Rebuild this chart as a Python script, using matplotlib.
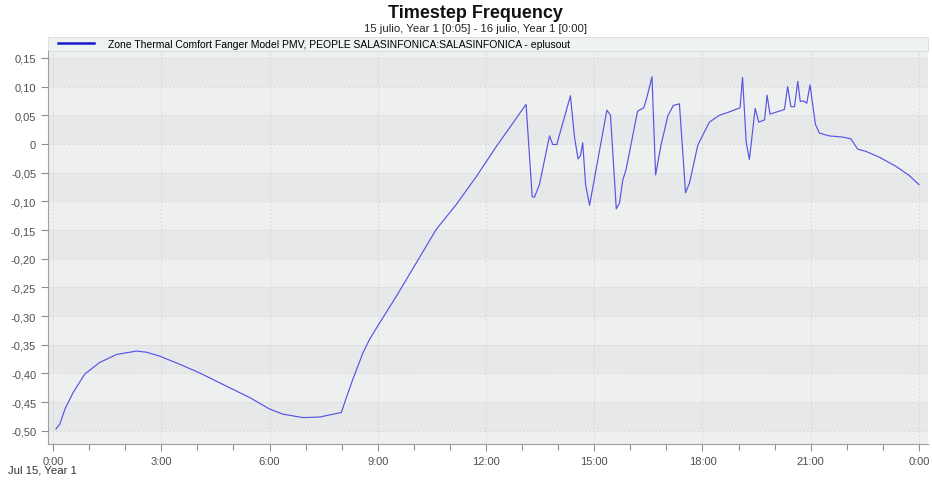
import numpy as np
import matplotlib
matplotlib.use('Agg')
import matplotlib.pyplot as plt
from matplotlib.ticker import MultipleLocator, FuncFormatter
from matplotlib.patches import Rectangle

plt.rcParams['font.family'] = ['Liberation Sans', 'DejaVu Sans']

# hours since Jul 15 0:00
hours = [0.08, 0.19, 0.33, 0.56, 0.88, 1.29, 1.76, 2.31, 2.59, 2.96, 3.51, 4.06,
         4.80, 5.45, 6.00, 6.37, 6.93, 7.39, 7.99, 8.13, 8.31, 8.59, 8.77, 9.05,
         9.52, 10.07, 10.62, 11.17, 11.73, 12.28, 13.11, 13.28, 13.34, 13.48,
         13.76, 13.85, 13.96, 14.34, 14.45, 14.55, 14.62, 14.68, 14.76, 14.87,
         15.35, 15.45, 15.61, 15.70, 15.79, 15.88, 16.20, 16.37, 16.45, 16.60,
         16.70, 16.85, 17.04, 17.19, 17.36, 17.53, 17.64, 17.87, 18.19, 18.47,
         18.75, 19.04, 19.11, 19.21, 19.30, 19.46, 19.56, 19.72, 19.79, 19.87,
         20.27, 20.36, 20.45, 20.55, 20.64, 20.71, 20.80, 20.89, 20.98, 21.13,
         21.24, 21.51, 21.88, 22.11, 22.30, 22.53, 22.90, 23.36, 23.73, 24.00]
pmv = [-0.497, -0.488, -0.462, -0.433, -0.401, -0.381, -0.367, -0.361, -0.363,
       -0.370, -0.384, -0.399, -0.422, -0.442, -0.462, -0.471, -0.477, -0.476,
       -0.468, -0.442, -0.410, -0.364, -0.341, -0.312, -0.265, -0.207, -0.149,
       -0.106, -0.057, -0.005, 0.069, -0.092, -0.093, -0.071, 0.014, -0.001,
       -0.001, 0.084, 0.013, -0.026, -0.020, 0.002, -0.071, -0.107, 0.059,
       0.050, -0.113, -0.103, -0.063, -0.045, 0.057, 0.063, 0.079, 0.117,
       -0.054, -0.002, 0.049, 0.067, 0.070, -0.085, -0.068, -0.002, 0.038,
       0.050, 0.056, 0.063, 0.116, 0.004, -0.027, 0.062, 0.038, 0.042, 0.085,
       0.052, 0.060, 0.100, 0.065, 0.065, 0.109, 0.074, 0.075, 0.071, 0.103,
       0.034, 0.019, 0.014, 0.012, 0.009, -0.009, -0.013, -0.023, -0.039,
       -0.055, -0.071]

series_label = 'Zone Thermal Comfort Fanger Model PMV, PEOPLE SALASINFONICA:SALASINFONICA - eplusout'
title = 'Timestep Frequency'
subtitle = '15 julio, Year 1 [0:05] - 16 julio, Year 1 [0:00]'
date_label = 'Jul 15, Year 1'

fig = plt.figure(figsize=(9.32, 4.85), dpi=100)
ax = fig.add_axes([48 / 932, 40 / 485, 880 / 932, 393 / 485])

ymin, ymax = -0.523, 0.162
ax.set_ylim(ymin, ymax)
ax.set_xlim(-0.14, 24.25)

# alternating horizontal bands
ax.set_facecolor('#eeefef')
for lo in np.arange(-0.50, 0.15, 0.10):
    ax.axhspan(lo, lo + 0.05, color='#e7e8e9', lw=0, zorder=0)

ax.plot(hours, pmv, color='#5555e4', lw=0.85, label=series_label, zorder=3)

ax.yaxis.set_major_locator(MultipleLocator(0.05))
ax.yaxis.set_major_formatter(FuncFormatter(
    lambda v, p: '0' if abs(v) < 1e-9 else f'{v:.2f}'.replace('.', ',')))
ax.xaxis.set_major_locator(MultipleLocator(3))
ax.xaxis.set_minor_locator(MultipleLocator(1))
ax.xaxis.set_major_formatter(FuncFormatter(lambda v, p: f'{int(round(v)) % 24}:00'))

ax.grid(True, which='major', color='#d8d8d8', ls=(0, (2, 2)), lw=0.7)
ax.set_axisbelow(True)

for s in ['top', 'right']:
    ax.spines[s].set_visible(False)
for s in ['left', 'bottom']:
    ax.spines[s].set_color('#a0a0a0')
ax.tick_params(axis='both', which='both', colors='#909090', labelcolor='#505050',
               labelsize=8, length=5, width=0.8)
ax.tick_params(axis='x', which='minor', length=4)

# legend strip above the plot
ax.add_patch(Rectangle((0, 1.0), 1, 0.036, transform=ax.transAxes, clip_on=False,
                       facecolor='#edf4ef', edgecolor='#d8dcd8', lw=0.6))
leg = ax.legend(loc='center left', bbox_to_anchor=(10 / 880, 1.018),
                borderaxespad=0, borderpad=0, frameon=False, fontsize=7.5,
                handlelength=3.45, handletextpad=1.35)
leg.get_lines()[0].set_color('#1a1ad0')
leg.get_lines()[0].set_linewidth(1.8)

fig.text(475 / 932, 1 - 14 / 485, title, ha='center', va='center',
         fontsize=13, fontweight='bold', color='#111111')
fig.text(475 / 932, 1 - 29 / 485, subtitle, ha='center', va='center',
         fontsize=8.2, color='#222222')
fig.text(8 / 932, 1 - 471 / 485, date_label, ha='left', va='center',
         fontsize=8.2, color='#333333')

fig.savefig('out.png', dpi=100)
